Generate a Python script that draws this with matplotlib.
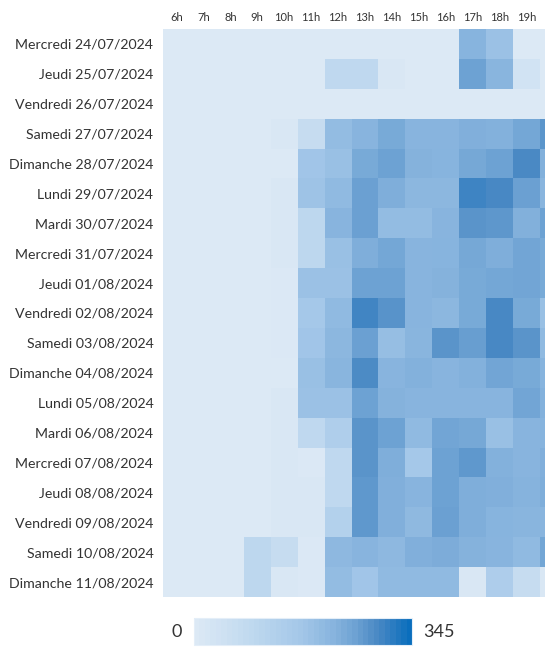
import numpy as np
import matplotlib
matplotlib.use("Agg")
import matplotlib.pyplot as plt
from matplotlib.colors import LinearSegmentedColormap, Normalize
from matplotlib.colorbar import ColorbarBase

plt.rcParams['font.family'] = ['Lato', 'DejaVu Sans']

days = ["Mercredi 24/07/2024", "Jeudi 25/07/2024", "Vendredi 26/07/2024",
        "Samedi 27/07/2024", "Dimanche 28/07/2024", "Lundi 29/07/2024",
        "Mardi 30/07/2024", "Mercredi 31/07/2024", "Jeudi 01/08/2024",
        "Vendredi 02/08/2024", "Samedi 03/08/2024", "Dimanche 04/08/2024",
        "Lundi 05/08/2024", "Mardi 06/08/2024", "Mercredi 07/08/2024",
        "Jeudi 08/08/2024", "Vendredi 09/08/2024", "Samedi 10/08/2024",
        "Dimanche 11/08/2024"]
hours = ["6h", "7h", "8h", "9h", "10h", "11h", "12h", "13h", "14h",
         "15h", "16h", "17h", "18h", "19h", "20h"]

values = [
    [0, 0, 0, 0, 0, 0, 0, 0, 0, 0, 0, 222, 185, 0, 0],
    [0, 0, 0, 0, 0, 0, 90, 90, 10, 0, 0, 257, 217, 35, 0],
    [0, 0, 0, 0, 0, 0, 0, 0, 0, 0, 0, 0, 0, 0, 0],
    [0, 0, 0, 0, 10, 70, 200, 220, 242, 220, 220, 231, 228, 247, 275],
    [0, 0, 0, 0, 0, 175, 190, 242, 257, 226, 222, 245, 257, 293, 230],
    [0, 0, 0, 0, 10, 180, 205, 260, 234, 213, 213, 302, 295, 260, 217],
    [0, 0, 0, 0, 10, 95, 220, 260, 200, 200, 220, 277, 273, 230, 257],
    [0, 0, 0, 0, 10, 95, 190, 234, 247, 220, 222, 245, 234, 250, 242],
    [0, 0, 0, 0, 5, 185, 185, 257, 257, 220, 226, 242, 247, 250, 242],
    [0, 0, 0, 0, 5, 165, 205, 300, 278, 220, 213, 242, 295, 242, 190],
    [0, 0, 0, 0, 5, 175, 213, 260, 195, 217, 277, 262, 295, 277, 205],
    [0, 0, 0, 0, 0, 190, 217, 290, 220, 228, 220, 228, 250, 242, 222],
    [0, 0, 0, 0, 10, 185, 185, 257, 226, 220, 220, 220, 220, 250, 228],
    [0, 0, 0, 0, 10, 90, 135, 277, 257, 205, 250, 245, 190, 220, 222],
    [0, 0, 0, 0, 10, 5, 90, 277, 234, 165, 257, 271, 228, 220, 231],
    [0, 0, 0, 0, 10, 10, 90, 271, 231, 220, 257, 234, 231, 224, 234],
    [0, 0, 0, 0, 10, 10, 125, 271, 231, 208, 260, 234, 222, 217, 217],
    [0, 0, 0, 95, 70, 5, 210, 220, 210, 231, 236, 226, 220, 205, 248],
    [0, 0, 0, 95, 10, 3, 200, 175, 205, 205, 205, 10, 140, 70, 10],
]
vmin, vmax = 0, 345

cmap = LinearSegmentedColormap.from_list("blues", [
    (0.0, "#dce9f5"), (0.25, "#c0d9ef"), (0.5, "#a2c6e8"), (0.65, "#86b3dd"),
    (0.75, "#6ca1d2"), (0.85, "#4a89c4"), (1.0, "#0a6ebd")])

W, H = 545, 650
fig = plt.figure(figsize=(W / 100, H / 100), dpi=100)

col_w = (540 - 163) / 14.0
left, top, bottom = 163, 29, 597
ax = fig.add_axes([left / W, 1 - bottom / H, col_w * len(hours) / W, (bottom - top) / H])
data = np.array(values, dtype=float)
ax.pcolormesh(np.arange(len(hours) + 1), np.arange(len(days) + 1), data,
              cmap=cmap, vmin=vmin, vmax=vmax, shading="flat")
ax.set_xlim(0, len(hours))
ax.set_ylim(len(days), 0)
# the last column is cut by the right edge of the picture: its label is not shown
ax.set_xticks(np.arange(len(hours) - 1) + 0.5)
ax.set_xticklabels(hours[:-1])
ax.set_yticks(np.arange(len(days)) + 0.5)
ax.set_yticklabels(days)
ax.xaxis.tick_top()
ax.tick_params(axis="x", length=0, pad=4, labelsize=8, labelcolor="#333333")
ax.tick_params(axis="y", length=0, pad=7, labelsize=10.2, labelcolor="#333333")
for s in ax.spines.values():
    s.set_visible(False)

cax = fig.add_axes([194 / W, 1 - 645 / H, (412 - 194) / W, 27 / H])
cb = ColorbarBase(cax, cmap=cmap.resampled(40), norm=Normalize(vmin, vmax),
                  orientation="horizontal")
cb.set_ticks([])
cb.outline.set_edgecolor("#e4eef8")
cb.outline.set_linewidth(0.8)
fig.text(177 / W, 1 - 632 / H, str(vmin), ha="center", va="center",
         fontsize=13, color="#333333")
fig.text(423 / W, 1 - 632 / H, str(vmax), ha="left", va="center",
         fontsize=13, color="#333333")

fig.savefig("out.png", dpi=100)
